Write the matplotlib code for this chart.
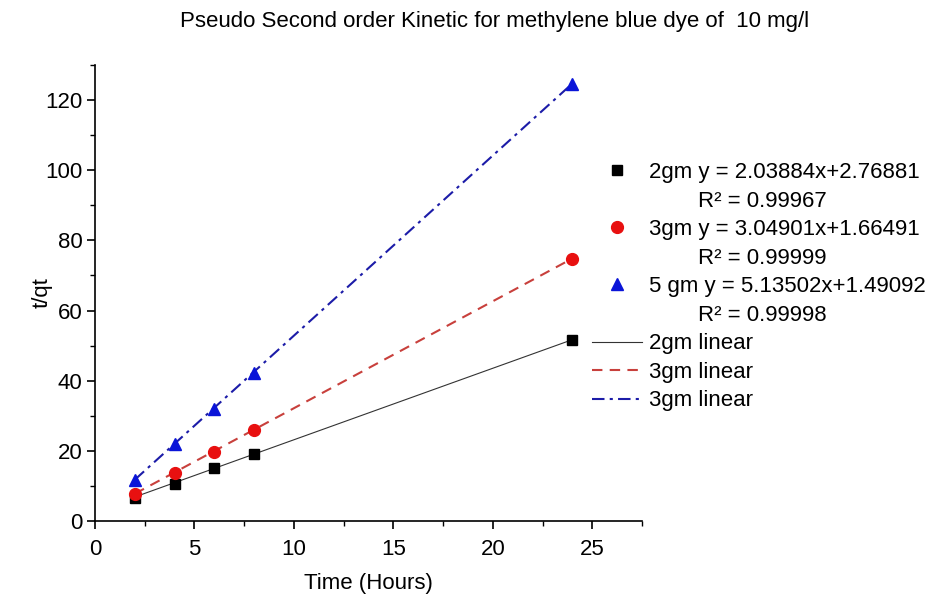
import numpy as np
import matplotlib
matplotlib.use("Agg")
import matplotlib.pyplot as plt
from matplotlib.lines import Line2D
from matplotlib.ticker import MultipleLocator

plt.rcParams["font.family"] = ["Liberation Sans", "DejaVu Sans"]

# Time (hours) and t/qt values for each adsorbent dose
time_h = [2, 4, 6, 8, 24]
tqt_2gm = [6.5, 10.6, 15.2, 19.0, 51.5]
tqt_3gm = [7.7, 13.6, 19.8, 25.9, 74.8]
tqt_5gm = [11.6, 22.0, 32.0, 42.3, 124.7]

# Linear fit parameters (slope, intercept, R^2)
fit_2gm = (2.03884, 2.76881, 0.99967)
fit_3gm = (3.04901, 1.66491, 0.99999)
fit_5gm = (5.13502, 1.49092, 0.99998)

title = "Pseudo Second order Kinetic for methylene blue dye of  10 mg/l"

FS = 16

fig = plt.figure(figsize=(9.29, 5.99), dpi=100)
ax = fig.add_axes([95 / 929, 1 - 521 / 599, (642 - 95) / 929, (521 - 65) / 599])

xfit = np.array([min(time_h), max(time_h)])

c_black = "#000000"
c_red = "#e81010"
c_blue = "#0a14d8"

l1, = ax.plot(xfit, fit_2gm[0] * xfit + fit_2gm[1], color="#333333", lw=0.8, ls="-", zorder=2)
l2, = ax.plot(xfit, fit_3gm[0] * xfit + fit_3gm[1], color="#c8403c", lw=1.5,
              ls=(0, (5, 3.5)), zorder=2)
l3, = ax.plot(xfit, fit_5gm[0] * xfit + fit_5gm[1], color="#1c1ca8", lw=1.5,
              ls=(0, (6, 2.5, 1.5, 2.5)), zorder=2)

m1, = ax.plot(time_h, tqt_2gm, ls="none", marker="s", ms=7.5, color=c_black, zorder=3)
m2, = ax.plot(time_h, tqt_3gm, ls="none", marker="o", ms=8.5, color=c_red, zorder=3)
m3, = ax.plot(time_h, tqt_5gm, ls="none", marker="^", ms=8.5, color=c_blue, zorder=3)

ax.set_xlim(0, 27.5)
ax.set_ylim(0, 130)
ax.xaxis.set_major_locator(MultipleLocator(5))
ax.xaxis.set_minor_locator(MultipleLocator(2.5))
ax.yaxis.set_major_locator(MultipleLocator(20))
ax.yaxis.set_minor_locator(MultipleLocator(10))

for s in ("top", "right"):
    ax.spines[s].set_visible(False)
for s in ("left", "bottom"):
    ax.spines[s].set_linewidth(1.2)

ax.tick_params(which="major", direction="out", length=6, width=1.2, labelsize=FS)
ax.tick_params(which="minor", direction="out", length=3.5, width=1.0)
ax.tick_params(axis="x", which="major", pad=7)
ax.tick_params(axis="y", which="major", pad=3)

ax.set_xlabel("Time (Hours)", fontsize=FS, labelpad=9)
ax.set_ylabel("t/qt", fontsize=FS, labelpad=-5)

fig.text(495 / 929, 1 - 22 / 599, title, ha="center", va="center", fontsize=FS)

blank = Line2D([], [], ls="none", marker="none")
handles = [m1, blank, m2, blank, m3, blank, l1, l2, l3]
pad = " " * 8
labels = [
    f"2gm y = {fit_2gm[0]:.5f}x+{fit_2gm[1]:.5f}",
    f"{pad}R\u00b2 = {fit_2gm[2]:.5f}",
    f"3gm y = {fit_3gm[0]:.5f}x+{fit_3gm[1]:.5f}",
    f"{pad}R\u00b2 = {fit_3gm[2]:.5f}",
    f"5 gm y = {fit_5gm[0]:.5f}x+{fit_5gm[1]:.5f}",
    f"{pad}R\u00b2 = {fit_5gm[2]:.5f}",
    "2gm linear",
    "3gm linear",
    "3gm linear",
]
fig.legend(handles, labels, loc="upper left",
           bbox_to_anchor=(592 / 929, 1 - 162 / 599),
           frameon=False, fontsize=FS, handlelength=2.25, handletextpad=0.32,
           labelspacing=0.34, borderpad=0, borderaxespad=0)

fig.savefig("out.png", dpi=100)
